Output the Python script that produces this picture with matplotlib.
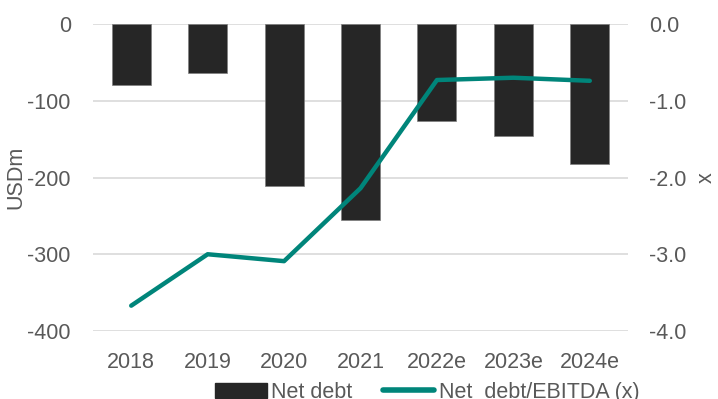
import numpy as np
import matplotlib.pyplot as plt
from matplotlib.patches import Patch
from matplotlib.lines import Line2D

plt.rcParams['font.family'] = ['Liberation Sans', 'DejaVu Sans']
plt.rcParams['axes.unicode_minus'] = False

# net debt and leverage by year
years = ['2018', '2019', '2020', '2021', '2022e', '2023e', '2024e']
net_debt = [-80, -64, -211, -255, -126, -146, -182]
nd_ebitda = [-3.67, -3.0, -3.09, -2.14, -0.73, -0.70, -0.74]

grey = '#595959'
teal = '#00857A'
fs = 15.5

fig = plt.figure(figsize=(7.18, 3.99), dpi=100)
ax = fig.add_axes([93/718, 1 - 331/399, 535/718, 307/399])
x = np.arange(len(years))

ax.bar(x, net_debt, width=0.51, color='#262626', edgecolor='#7f7f7f', linewidth=0.5, zorder=2)
ax.set_ylim(-400, 0)
ax.set_xlim(-0.5, len(years) - 0.5)
ax.set_yticks([0, -100, -200, -300, -400])
ax.yaxis.grid(True, color='#D9D9D9', linewidth=1.2, zorder=0)
ax.set_axisbelow(True)
ax.set_xticks(x)
ax.set_xticklabels(years)
ax.tick_params(length=0, labelsize=fs, labelcolor=grey)
ax.tick_params(axis='y', pad=16)
ax.tick_params(axis='x', pad=15)
# label sits a bit closer to the tick labels, overlapping the -200 row
ax.set_ylabel('USDm', fontsize=fs, color=grey)
ax.yaxis.set_label_coords(-0.125, 0.5)
for s in ax.spines.values():
    s.set_visible(False)

ax2 = ax.twinx()
ax2.plot(x, nd_ebitda, color=teal, linewidth=3.2, solid_capstyle='round', zorder=3)
ax2.set_ylim(-4, 0)
ax2.set_yticks([0, -1, -2, -3, -4])
ax2.set_yticklabels(['0.0', '-1.0', '-2.0', '-3.0', '-4.0'])
ax2.tick_params(length=0, labelsize=fs, labelcolor=grey, pad=15)
ax2.set_ylabel('x', fontsize=fs, color=grey, labelpad=7)
for s in ax2.spines.values():
    s.set_visible(False)

handles = [Patch(facecolor='#262626', edgecolor='#262626'),
           Line2D([0], [0], color=teal, linewidth=4, solid_capstyle='round')]
fig.legend(handles, ['Net debt', 'Net  debt/EBITDA (x)'], loc='upper center',
           bbox_to_anchor=(0.595, 0.043), ncol=2, frameon=False, fontsize=fs,
           labelcolor=grey, handlelength=2.4, handletextpad=0.2, columnspacing=1.4,
           borderaxespad=0, borderpad=0)

fig.savefig('out.png', dpi=100)
